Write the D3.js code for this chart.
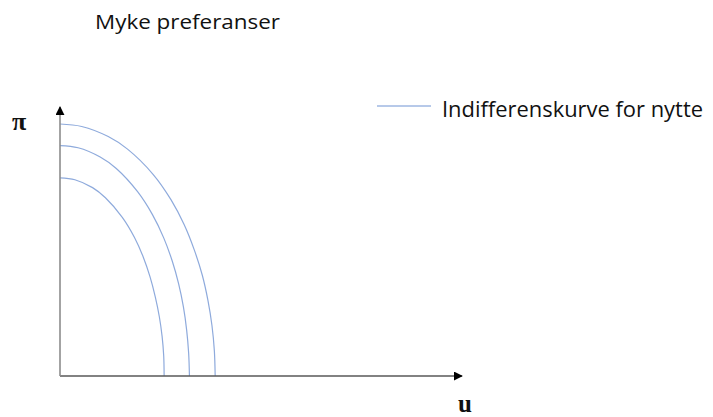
<!DOCTYPE html>
<html>
<head>
<meta charset="utf-8">
<script src="https://cdn.jsdelivr.net/npm/d3@7"></script>
<style>
  html, body { margin: 0; padding: 0; background: #ffffff; }
  svg { display: block; }
</style>
</head>
<body>
<svg id="chart" width="713" height="417"></svg>
<script>
// ---- data ----
const title = "Myke preferanser";
const legendLabel = "Indifferenskurve for nytte";
const xLabel = "u";
const yLabel = "π";

// indifference curves, points as [u, π]
const curveOuter = [[0,92.3],[5.4,91.4],[12.0,87.7],[16.8,83.1],[23.2,73.8],[27.6,64.6],[30.9,55.4],[33.4,46.2],[35.4,36.9],[36.8,27.7],[37.8,18.5],[38.4,9.2],[38.6,0]];
const curveMiddle = [[0,84.4],[4.5,83.6],[10.0,80.2],[14.0,76.0],[19.3,67.5],[23.0,59.1],[25.8,50.6],[27.9,42.2],[29.5,33.8],[30.7,25.3],[31.5,16.9],[32.0,8.4],[32.2,0]];
const curveInner = [[0,72.6],[3.7,71.9],[8.1,69.0],[11.3,65.3],[15.5,58.1],[18.5,50.8],[20.7,43.6],[22.4,36.3],[23.7,29.0],[24.7,21.8],[25.4,14.5],[25.8,7.3],[25.9,0]];
const curves = [curveOuter, curveMiddle, curveInner];

// ---- drawing ----
const svg = d3.select("#chart");
const x0 = 60, x1 = 462, y0 = 376, y1 = 107;
const x = d3.scaleLinear().domain([0, 100]).range([x0, x1]);
const y = d3.scaleLinear().domain([0, 100]).range([y0, y0 - 273]);

const curveColor = "#8eaadc";

// title
svg.append("text")
  .attr("x", 95).attr("y", 29)
  .attr("font-family", "Open Sans, sans-serif")
  .attr("font-size", 20)
  .attr("fill", "#111")
  .attr("textLength", 185).attr("lengthAdjust", "spacingAndGlyphs")
  .text(title);

// legend
svg.append("line")
  .attr("x1", 377).attr("x2", 431).attr("y1", 106).attr("y2", 106)
  .attr("stroke", "#6f93d3").attr("stroke-width", 1);
svg.append("text")
  .attr("x", 442).attr("y", 117)
  .attr("font-family", "Open Sans, sans-serif")
  .attr("font-size", 21)
  .attr("fill", "#111")
  .attr("textLength", 261).attr("lengthAdjust", "spacingAndGlyphs")
  .text(legendLabel);

// curves
const line = d3.line()
  .x(d => x(d[0])).y(d => y(d[1]))
  .curve(d3.curveCatmullRom.alpha(0.5));
svg.append("g").selectAll("path")
  .data(curves).join("path")
  .attr("d", line)
  .attr("fill", "none")
  .attr("stroke", curveColor)
  .attr("stroke-width", 1.2);

// arrow markers
const defs = svg.append("defs");
defs.append("marker")
  .attr("id", "arrow").attr("viewBox", "0 0 10 10")
  .attr("refX", 9).attr("refY", 5)
  .attr("markerWidth", 9).attr("markerHeight", 9)
  .attr("markerUnits", "userSpaceOnUse")
  .attr("orient", "auto")
  .append("path").attr("d", "M0,0 L10,5 L0,10 Z").attr("fill", "#000");

// axes
const xAxis = d3.axisBottom(x).tickValues([]).tickSizeOuter(0);
const gx = svg.append("g").attr("transform", `translate(0,${y0})`).call(xAxis);
gx.select(".domain").remove();
gx.append("line")
  .attr("x1", x0).attr("x2", x1).attr("y1", 0).attr("y2", 0)
  .attr("stroke", "#595959").attr("stroke-width", 1.6)
  .attr("marker-end", "url(#arrow)");

const yAxis = d3.axisLeft(y).tickValues([]).tickSizeOuter(0);
const gy = svg.append("g").attr("transform", `translate(${x0},0)`).call(yAxis);
gy.select(".domain").remove();
gy.append("line")
  .attr("x1", 0).attr("x2", 0).attr("y1", y0).attr("y2", y1)
  .attr("stroke", "#8c8c8c").attr("stroke-width", 1.6)
  .attr("marker-end", "url(#arrow)");

// axis labels
svg.append("text")
  .attr("x", 12).attr("y", 130)
  .attr("font-family", "Liberation Serif, serif")
  .attr("font-weight", "bold")
  .attr("font-size", 26)
  .attr("fill", "#111")
  .text(yLabel);
svg.append("text")
  .attr("x", 458).attr("y", 412)
  .attr("font-family", "Liberation Serif, serif")
  .attr("font-weight", "bold")
  .attr("font-size", 25)
  .attr("fill", "#111")
  .text(xLabel);
</script>
</body>
</html>
